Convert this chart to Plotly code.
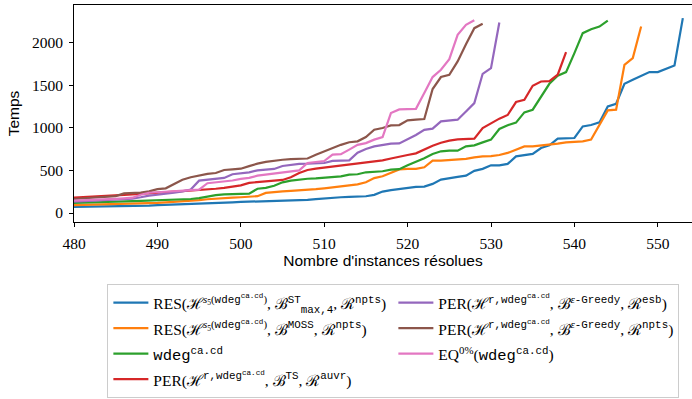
import plotly.graph_objects as go

# ---------------- data ----------------
x_blue = list(range(480, 554))
y_blue = [72, 73, 75, 76, 77, 78, 80, 82, 84, 88, 92, 95, 98, 100, 104, 108, 112, 118, 122, 126,
          130, 133, 136, 139, 142, 145, 146, 147, 155, 163, 172, 181, 185, 190, 194, 197, 213, 252,
          268, 283, 295, 307, 310, 342, 392, 412, 424, 439, 495, 518, 560, 560, 576, 665, 677, 693,
          763, 794, 872, 875, 880, 1016, 1033, 1063, 1251, 1282, 1516, 1563, 1610, 1653, 1653,
          1692, 1731, 2286]

x_orange = list(range(480, 549))
y_orange = [92, 94, 96, 98, 100, 103, 106, 109, 112, 116, 120, 125, 130, 136, 143, 152, 162, 170,
            176, 180, 185, 193, 198, 236, 248, 255, 260, 265, 272, 280, 290, 300, 315, 325, 336,
            361, 410, 432, 470, 512, 518, 518, 537, 615, 615, 622, 627, 635, 653, 665, 667, 681,
            705, 740, 782, 782, 790, 798, 814, 829, 837, 841, 861, 1036, 1204, 1212, 1739, 1817,
            2187]

x_green = list(range(480, 545))
y_green = [118, 120, 123, 128, 131, 134, 137, 140, 143, 146, 148, 150, 153, 158, 165, 175, 195,
           210, 218, 222, 225, 228, 285, 295, 320, 360, 380, 395, 402, 406, 412, 418, 430, 450,
           455, 478, 486, 490, 509, 515, 560, 599, 642, 693, 724, 732, 732, 782, 794, 829, 861,
           986, 1030, 1060, 1180, 1212, 1368, 1516, 1610, 1653, 1876, 2110, 2156, 2187, 2258]

x_red = list(range(480, 540))
y_red = [180, 184, 190, 196, 200, 205, 212, 220, 228, 235, 240, 246, 252, 258, 263, 270, 276, 285,
         295, 307, 325, 354, 365, 373, 380, 388, 420, 470, 505, 521, 533, 546, 556, 568, 578, 588,
         605, 617, 640, 665, 681, 700, 745, 790, 825, 850, 865, 869, 872, 997, 1056, 1107, 1150,
         1302, 1329, 1493, 1543, 1548, 1622, 1887]

x_purple = list(range(480, 532))
y_purple = [135, 140, 148, 155, 160, 163, 166, 168, 185, 205, 215, 225, 240, 255, 275, 380, 392,
            400, 412, 455, 465, 478, 500, 510, 517, 552, 568, 576, 578, 582, 587, 612, 616, 618,
            708, 752, 782, 794, 814, 816, 861, 915, 975, 990, 1075, 1087, 1095, 1192, 1290, 1633,
            1700, 2234]

x_brown = list(range(480, 530))
y_brown = [165, 170, 175, 185, 192, 198, 230, 235, 240, 255, 280, 290, 340, 390, 420, 440, 460,
           470, 505, 512, 520, 550, 580, 600, 615, 625, 632, 638, 640, 685, 724, 763, 800, 830,
           841, 892, 978, 997, 1028, 1032, 1087, 1095, 1103, 1454, 1595, 1622, 1778, 1980, 2168,
           2219]

x_pink = list(range(480, 529))
y_pink = [145, 148, 152, 158, 162, 166, 172, 180, 215, 238, 244, 250, 262, 268, 272, 275, 350,
          360, 372, 382, 400, 412, 439, 451, 463, 478, 490, 501, 587, 599, 610, 685, 690, 744, 800,
          820, 861, 890, 1173, 1215, 1220, 1222, 1407, 1595, 1680, 1805, 2090, 2207, 2262]

x_ticks = [480, 490, 500, 510, 520, 530, 540, 550]
y_ticks = [0, 500, 1000, 1500, 2000]


def tt(s):
    return "<span style='font-family:Liberation Mono'>" + s + "</span>"


def sized(s):
    return "<span style='font-size:15.5px'>" + s + "</span>"


H_s5 = "ℋ<sup><i>s</i><sub>5</sub>(" + tt("wdeg") + "<sup>" + tt("ca.cd") + "</sup>)</sup>"
H_r = "ℋ<sup>" + tt("r,wdeg") + "<sup>" + tt("ca.cd") + "</sup></sup>"
B_eps = "ℬ<sup><i>ε</i>" + tt("-Greedy") + "</sup>"

labels = [
    "RES(" + H_s5 + ", ℬ<sup>" + tt("ST") + "</sup><sub>" + tt("max,4") + "</sub>, ℛ<sup>" + tt("npts") + "</sup>)",
    "RES(" + H_s5 + ", ℬ<sup>" + tt("MOSS") + "</sup>, ℛ<sup>" + tt("npts") + "</sup>)",
    tt("wdeg") + "<sup>" + tt("ca.cd") + "</sup>",
    "PER(" + H_r + ", ℬ<sup>" + tt("TS") + "</sup>, ℛ<sup>" + tt("auvr") + "</sup>)",
    "PER(" + H_r + ", " + B_eps + ", ℛ<sup>" + tt("esb") + "</sup>)",
    "PER(" + H_r + ", " + B_eps + ", ℛ<sup>" + tt("npts") + "</sup>)",
    "EQ<sup>0%</sup>(" + tt("wdeg") + "<sup>" + tt("ca.cd") + "</sup>)",
]

colors = ["#1f77b4", "#ff7f0e", "#2ca02c", "#d62728", "#9467bd", "#8c564b", "#e377c2"]
series = [(x_blue, y_blue), (x_orange, y_orange), (x_green, y_green), (x_red, y_red),
          (x_purple, y_purple), (x_brown, y_brown), (x_pink, y_pink)]
# column-major legend (2 columns) emulated with ranks
ranks = [1, 3, 5, 7, 2, 4, 6]

fig = go.Figure()
for (xs, ys), lab, col, rk in zip(series, labels, colors, ranks):
    fig.add_trace(go.Scatter(x=xs, y=ys, mode="lines", name=sized(lab),
                             line=dict(color=col, width=2.2), legendrank=rk))

serif = "Liberation Serif, DejaVu Serif, serif"
sans = "Liberation Sans, DejaVu Sans, sans-serif"

axis_common = dict(showline=True, linecolor="black", linewidth=1, mirror=True,
                   ticks="outside", ticklen=4, tickwidth=1, tickcolor="black",
                   showgrid=False, zeroline=False, ticklabelstandoff=3,
                   tickfont=dict(family=serif, size=15.5, color="black"))

fig.update_layout(
    width=692, height=399,
    margin=dict(l=74, r=0, t=5, b=176.5),
    paper_bgcolor="white", plot_bgcolor="white",
    showlegend=True,
    legend=dict(orientation="h", x=0.054, y=-0.285, xanchor="left", yanchor="top",
                entrywidth=235, entrywidthmode="pixels",
                bgcolor="white", bordercolor="#cccccc", borderwidth=1,
                font=dict(family=serif, size=17.3, color="black"),
                itemwidth=35, traceorder="normal"),
    xaxis=dict(range=[480, 554.1], tickvals=x_ticks, ticktext=[str(v) for v in x_ticks],
               title=dict(text="Nombre d'instances résolues", standoff=4,
                          font=dict(family=sans, size=15.5, color="black")),
               **axis_common),
    yaxis=dict(range=[-105, 2440], tickvals=y_ticks, ticktext=[str(v) for v in y_ticks],
               title=dict(text="Temps", standoff=8,
                          font=dict(family=sans, size=15.5, color="black")),
               **axis_common),
)

fig.write_html("out.html")
